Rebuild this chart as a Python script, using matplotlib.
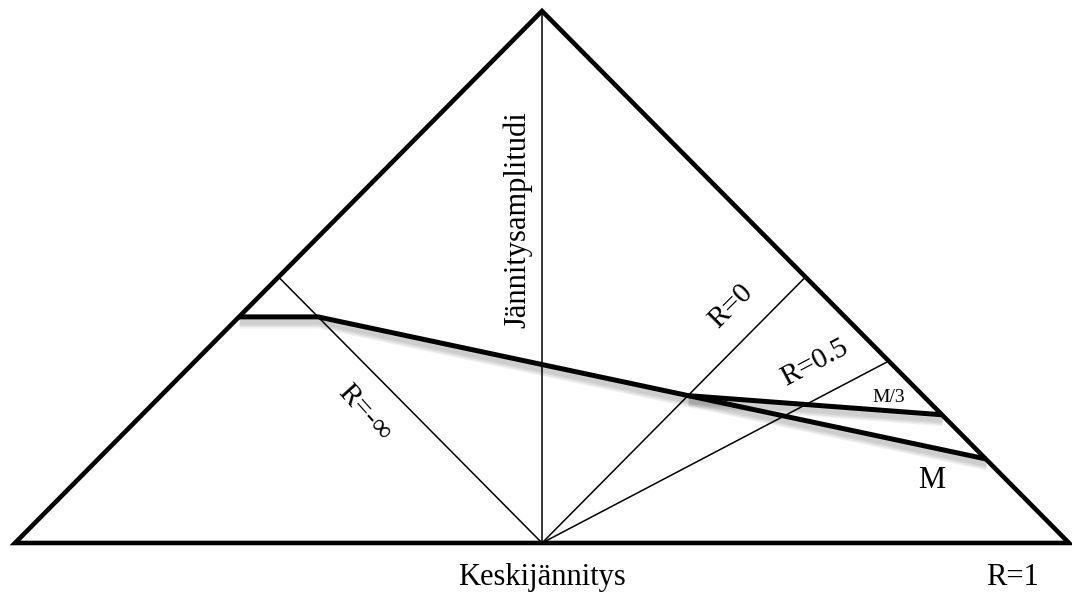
import matplotlib.pyplot as plt
import matplotlib.patheffects as pe
from matplotlib.patches import Polygon

plt.rcParams['font.family'] = ['Liberation Serif', 'DejaVu Serif']

# Haigh diagram, mean stress on x (-1..1), stress amplitude on y (0..1)
triangle_x = [-1.0, 0.0, 1.0]
triangle_y = [0.0, 1.0, 0.0]

# constant R rays from the origin: end point on the diagram border
ray_names = ["R=-inf", "R=-1", "R=0", "R=0.5"]
ray_end_x = [-0.5, 0.0, 0.5, 0.658]
ray_end_y = [0.5, 1.0, 0.5, 0.342]

# fatigue limit curves
m_x = [-0.575, -0.425, 0.842]
m_y = [0.425, 0.425, 0.158]
m3_x = [0.277, 0.759]
m3_y = [0.277, 0.241]

fig = plt.figure(figsize=(10.72, 5.94), dpi=100)
ax = fig.add_axes([0, 0, 1, 1])
ax.set_xlim(-1.0285, 1.0057)
ax.set_ylim(-0.0959, 1.0207)
ax.axis('off')

for name, ex, ey in zip(ray_names, ray_end_x, ray_end_y):
    ax.plot([0, ex], [0, ey], color='black', lw=1.1, solid_capstyle='butt')

shadow = [pe.SimpleLineShadow(offset=(0.5, -d), shadow_color='black', alpha=0.055)
          for d in (1.5, 2.5, 3.5, 4.5, 5.5, 6.5)] + [pe.Normal()]
ax.plot(m_x, m_y, color='black', lw=3.6, solid_joinstyle='miter',
        solid_capstyle='butt', path_effects=shadow)
ax.plot(m3_x, m3_y, color='black', lw=3.6, solid_capstyle='butt',
        path_effects=shadow)

ax.add_patch(Polygon(list(zip(triangle_x, triangle_y)), closed=True,
                     fill=False, edgecolor='black', lw=3.3, joinstyle='miter'))

ax.text(-0.047, 0.607, "Jännitysamplitudi", rotation=90, fontsize=22,
        ha='center', va='center')
ax.text(-0.336, 0.244, "R=-∞", rotation=-48, fontsize=21,
        ha='center', va='center', rotation_mode='anchor')
ax.text(0.359, 0.445, "R=0", rotation=45, fontsize=21,
        ha='center', va='center', rotation_mode='anchor')
ax.text(0.518, 0.338, "R=0.5", rotation=28, fontsize=21,
        ha='center', va='center', rotation_mode='anchor')
ax.text(0.657, 0.274, "M/3", fontsize=14, ha='center', va='center')
ax.text(0.740, 0.118, "M", fontsize=22, ha='center', va='center')
ax.text(0.0, -0.064, "Keskijännitys", fontsize=22, ha='center', va='center')
ax.text(0.892, -0.064, "R=1", fontsize=22, ha='center', va='center')

fig.savefig("out.png", dpi=100)
